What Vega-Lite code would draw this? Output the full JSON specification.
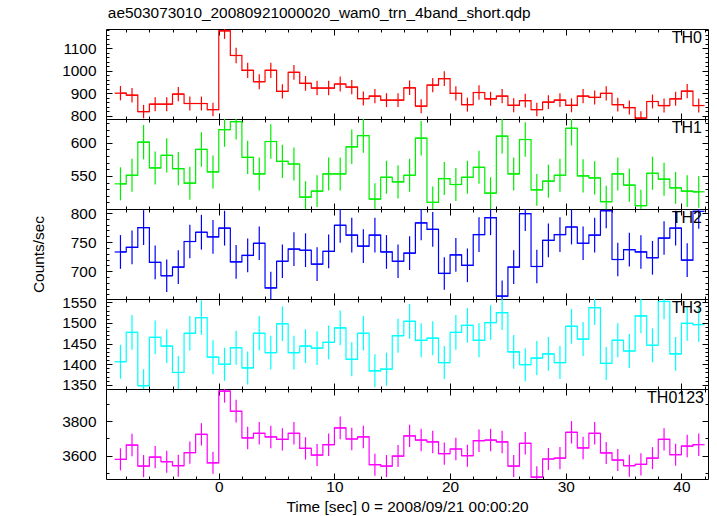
{
  "$schema": "https://vega.github.io/schema/vega-lite/v6.json",
  "padding": {"left": 30, "top": 6, "right": 3, "bottom": 0},
  "spacing": 0,
  "bounds": "flush",
  "title": {"text": "ae503073010_20080921000020_wam0_trn_4band_short.qdp", "anchor": "start", "fontSize": 15.4, "fontWeight": "normal", "font": "Liberation Sans", "color": "#000", "dx": 77, "offset": 1},
  "config": {
    "font": "Liberation Sans",
    "view": {"stroke": "#000", "strokeWidth": 1},
    "axis": {"domain": false, "grid": false, "tickColor": "#000", "tickWidth": 1, "labelColor": "#000", "labelFont": "Liberation Sans", "labelFontSize": 15.4, "titleFont": "Liberation Sans", "titleFontSize": 15.4, "titleFontWeight": "normal", "titleColor": "#000", "labelOverlap": false},
    "text": {"font": "Liberation Sans", "fontSize": 16, "color": "#000"}
  },
  "datasets": {
    "TH0": [
      {"t0":-9,"t1":-8,"tc":-8.5,"rate":900,"err":32},{"t0":-8,"t1":-7,"tc":-7.5,"rate":891,"err":32},{"t0":-7,"t1":-6,"tc":-6.5,"rate":818,"err":30},{"t0":-6,"t1":-5,"tc":-5.5,"rate":851,"err":31},{"t0":-5,"t1":-4,"tc":-4.5,"rate":851,"err":31},{"t0":-4,"t1":-3,"tc":-3.5,"rate":896,"err":32},{"t0":-3,"t1":-2,"tc":-2.5,"rate":854,"err":31},{"t0":-2,"t1":-1,"tc":-1.5,"rate":854,"err":31},{"t0":-1,"t1":0,"tc":-0.5,"rate":827,"err":30},{"t0":0,"t1":1,"tc":0.5,"rate":1178,"err":36},{"t0":1,"t1":2,"tc":1.5,"rate":1068,"err":35},{"t0":2,"t1":3,"tc":2.5,"rate":1002,"err":34},{"t0":3,"t1":4,"tc":3.5,"rate":951,"err":33},{"t0":4,"t1":5,"tc":4.5,"rate":1002,"err":34},{"t0":5,"t1":6,"tc":5.5,"rate":908,"err":32},{"t0":6,"t1":7,"tc":6.5,"rate":993,"err":33},{"t0":7,"t1":8,"tc":7.5,"rate":944,"err":33},{"t0":8,"t1":9,"tc":8.5,"rate":923,"err":32},{"t0":9,"t1":10,"tc":9.5,"rate":923,"err":32},{"t0":10,"t1":11,"tc":10.5,"rate":941,"err":33},{"t0":11,"t1":12,"tc":11.5,"rate":927,"err":32},{"t0":12,"t1":13,"tc":12.5,"rate":876,"err":31},{"t0":13,"t1":14,"tc":13.5,"rate":887,"err":32},{"t0":14,"t1":15,"tc":14.5,"rate":869,"err":31},{"t0":15,"t1":16,"tc":15.5,"rate":869,"err":31},{"t0":16,"t1":17,"tc":16.5,"rate":924,"err":32},{"t0":17,"t1":18,"tc":17.5,"rate":842,"err":31},{"t0":18,"t1":19,"tc":18.5,"rate":936,"err":32},{"t0":19,"t1":20,"tc":19.5,"rate":965,"err":33},{"t0":20,"t1":21,"tc":20.5,"rate":899,"err":32},{"t0":21,"t1":22,"tc":21.5,"rate":849,"err":31},{"t0":22,"t1":23,"tc":22.5,"rate":903,"err":32},{"t0":23,"t1":24,"tc":23.5,"rate":875,"err":31},{"t0":24,"t1":25,"tc":24.5,"rate":887,"err":32},{"t0":25,"t1":26,"tc":25.5,"rate":846,"err":31},{"t0":26,"t1":27,"tc":26.5,"rate":867,"err":31},{"t0":27,"t1":28,"tc":27.5,"rate":827,"err":30},{"t0":28,"t1":29,"tc":28.5,"rate":860,"err":31},{"t0":29,"t1":30,"tc":29.5,"rate":869,"err":31},{"t0":30,"t1":31,"tc":30.5,"rate":846,"err":31},{"t0":31,"t1":32,"tc":31.5,"rate":887,"err":32},{"t0":32,"t1":33,"tc":32.5,"rate":881,"err":31},{"t0":33,"t1":34,"tc":33.5,"rate":899,"err":32},{"t0":34,"t1":35,"tc":34.5,"rate":849,"err":31},{"t0":35,"t1":36,"tc":35.5,"rate":836,"err":31},{"t0":36,"t1":37,"tc":36.5,"rate":789,"err":30},{"t0":37,"t1":38,"tc":37.5,"rate":863,"err":31},{"t0":38,"t1":39,"tc":38.5,"rate":845,"err":31},{"t0":39,"t1":40,"tc":39.5,"rate":875,"err":31},{"t0":40,"t1":41,"tc":40.5,"rate":909,"err":32},{"t0":41,"t1":42,"tc":41.5,"rate":845,"err":31}
    ],
    "TH1": [
      {"t0":-9,"t1":-8,"tc":-8.5,"rate":538,"err":25},{"t0":-8,"t1":-7,"tc":-7.5,"rate":551,"err":25},{"t0":-7,"t1":-6,"tc":-6.5,"rate":601,"err":26},{"t0":-6,"t1":-5,"tc":-5.5,"rate":562,"err":25},{"t0":-5,"t1":-4,"tc":-4.5,"rate":581,"err":26},{"t0":-4,"t1":-3,"tc":-3.5,"rate":561,"err":25},{"t0":-3,"t1":-2,"tc":-2.5,"rate":539,"err":25},{"t0":-2,"t1":-1,"tc":-1.5,"rate":590,"err":26},{"t0":-1,"t1":0,"tc":-0.5,"rate":556,"err":25},{"t0":0,"t1":1,"tc":0.5,"rate":620,"err":26},{"t0":1,"t1":2,"tc":1.5,"rate":632,"err":27},{"t0":2,"t1":3,"tc":2.5,"rate":578,"err":25},{"t0":3,"t1":4,"tc":3.5,"rate":553,"err":25},{"t0":4,"t1":5,"tc":4.5,"rate":602,"err":26},{"t0":5,"t1":6,"tc":5.5,"rate":572,"err":25},{"t0":6,"t1":7,"tc":6.5,"rate":568,"err":25},{"t0":7,"t1":8,"tc":7.5,"rate":518,"err":24},{"t0":8,"t1":9,"tc":8.5,"rate":527,"err":24},{"t0":9,"t1":10,"tc":9.5,"rate":553,"err":25},{"t0":10,"t1":11,"tc":10.5,"rate":553,"err":25},{"t0":11,"t1":12,"tc":11.5,"rate":594,"err":26},{"t0":12,"t1":13,"tc":12.5,"rate":611,"err":26},{"t0":13,"t1":14,"tc":13.5,"rate":515,"err":24},{"t0":14,"t1":15,"tc":14.5,"rate":548,"err":25},{"t0":15,"t1":16,"tc":15.5,"rate":541,"err":25},{"t0":16,"t1":17,"tc":16.5,"rate":551,"err":25},{"t0":17,"t1":18,"tc":17.5,"rate":607,"err":26},{"t0":18,"t1":19,"tc":18.5,"rate":510,"err":24},{"t0":19,"t1":20,"tc":19.5,"rate":546,"err":25},{"t0":20,"t1":21,"tc":20.5,"rate":537,"err":25},{"t0":21,"t1":22,"tc":21.5,"rate":548,"err":25},{"t0":22,"t1":23,"tc":22.5,"rate":563,"err":25},{"t0":23,"t1":24,"tc":23.5,"rate":524,"err":24},{"t0":24,"t1":25,"tc":24.5,"rate":610,"err":26},{"t0":25,"t1":26,"tc":25.5,"rate":553,"err":25},{"t0":26,"t1":27,"tc":26.5,"rate":605,"err":26},{"t0":27,"t1":28,"tc":27.5,"rate":529,"err":24},{"t0":28,"t1":29,"tc":28.5,"rate":542,"err":25},{"t0":29,"t1":30,"tc":29.5,"rate":551,"err":25},{"t0":30,"t1":31,"tc":30.5,"rate":622,"err":26},{"t0":31,"t1":32,"tc":31.5,"rate":550,"err":25},{"t0":32,"t1":33,"tc":32.5,"rate":547,"err":25},{"t0":33,"t1":34,"tc":33.5,"rate":511,"err":24},{"t0":34,"t1":35,"tc":34.5,"rate":553,"err":25},{"t0":35,"t1":36,"tc":35.5,"rate":536,"err":25},{"t0":36,"t1":37,"tc":36.5,"rate":505,"err":24},{"t0":37,"t1":38,"tc":37.5,"rate":554,"err":25},{"t0":38,"t1":39,"tc":38.5,"rate":545,"err":25},{"t0":39,"t1":40,"tc":39.5,"rate":532,"err":24},{"t0":40,"t1":41,"tc":40.5,"rate":527,"err":24},{"t0":41,"t1":42,"tc":41.5,"rate":526,"err":24}
    ],
    "TH2": [
      {"t0":-9,"t1":-8,"tc":-8.5,"rate":733,"err":29},{"t0":-8,"t1":-7,"tc":-7.5,"rate":741,"err":29},{"t0":-7,"t1":-6,"tc":-6.5,"rate":775,"err":30},{"t0":-6,"t1":-5,"tc":-5.5,"rate":715,"err":29},{"t0":-5,"t1":-4,"tc":-4.5,"rate":692,"err":28},{"t0":-4,"t1":-3,"tc":-3.5,"rate":707,"err":29},{"t0":-3,"t1":-2,"tc":-2.5,"rate":751,"err":29},{"t0":-2,"t1":-1,"tc":-1.5,"rate":767,"err":30},{"t0":-1,"t1":0,"tc":-0.5,"rate":759,"err":29},{"t0":0,"t1":1,"tc":0.5,"rate":774,"err":30},{"t0":1,"t1":2,"tc":1.5,"rate":716,"err":29},{"t0":2,"t1":3,"tc":2.5,"rate":727,"err":29},{"t0":3,"t1":4,"tc":3.5,"rate":748,"err":29},{"t0":4,"t1":5,"tc":4.5,"rate":671,"err":28},{"t0":5,"t1":6,"tc":5.5,"rate":717,"err":29},{"t0":6,"t1":7,"tc":6.5,"rate":738,"err":29},{"t0":7,"t1":8,"tc":7.5,"rate":736,"err":29},{"t0":8,"t1":9,"tc":8.5,"rate":712,"err":29},{"t0":9,"t1":10,"tc":9.5,"rate":734,"err":29},{"t0":10,"t1":11,"tc":10.5,"rate":779,"err":30},{"t0":11,"t1":12,"tc":11.5,"rate":762,"err":30},{"t0":12,"t1":13,"tc":12.5,"rate":743,"err":29},{"t0":13,"t1":14,"tc":13.5,"rate":762,"err":30},{"t0":14,"t1":15,"tc":14.5,"rate":733,"err":29},{"t0":15,"t1":16,"tc":15.5,"rate":717,"err":29},{"t0":16,"t1":17,"tc":16.5,"rate":731,"err":29},{"t0":17,"t1":18,"tc":17.5,"rate":783,"err":30},{"t0":18,"t1":19,"tc":18.5,"rate":772,"err":30},{"t0":19,"t1":20,"tc":19.5,"rate":696,"err":28},{"t0":20,"t1":21,"tc":20.5,"rate":728,"err":29},{"t0":21,"t1":22,"tc":21.5,"rate":710,"err":29},{"t0":22,"t1":23,"tc":22.5,"rate":763,"err":30},{"t0":23,"t1":24,"tc":23.5,"rate":792,"err":30},{"t0":24,"t1":25,"tc":24.5,"rate":657,"err":27},{"t0":25,"t1":26,"tc":25.5,"rate":707,"err":29},{"t0":26,"t1":27,"tc":26.5,"rate":799,"err":30},{"t0":27,"t1":28,"tc":27.5,"rate":708,"err":29},{"t0":28,"t1":29,"tc":28.5,"rate":753,"err":29},{"t0":29,"t1":30,"tc":29.5,"rate":763,"err":30},{"t0":30,"t1":31,"tc":30.5,"rate":776,"err":30},{"t0":31,"t1":32,"tc":31.5,"rate":748,"err":29},{"t0":32,"t1":33,"tc":32.5,"rate":762,"err":30},{"t0":33,"t1":34,"tc":33.5,"rate":804,"err":30},{"t0":34,"t1":35,"tc":34.5,"rate":720,"err":29},{"t0":35,"t1":36,"tc":35.5,"rate":737,"err":29},{"t0":36,"t1":37,"tc":36.5,"rate":733,"err":29},{"t0":37,"t1":38,"tc":37.5,"rate":723,"err":29},{"t0":38,"t1":39,"tc":38.5,"rate":757,"err":29},{"t0":39,"t1":40,"tc":39.5,"rate":774,"err":30},{"t0":40,"t1":41,"tc":40.5,"rate":719,"err":29},{"t0":41,"t1":42,"tc":41.5,"rate":803,"err":30}
    ],
    "TH3": [
      {"t0":-9,"t1":-8,"tc":-8.5,"rate":1406,"err":41},{"t0":-8,"t1":-7,"tc":-7.5,"rate":1477,"err":42},{"t0":-7,"t1":-6,"tc":-6.5,"rate":1348,"err":40},{"t0":-6,"t1":-5,"tc":-5.5,"rate":1465,"err":41},{"t0":-5,"t1":-4,"tc":-4.5,"rate":1444,"err":41},{"t0":-4,"t1":-3,"tc":-3.5,"rate":1380,"err":40},{"t0":-3,"t1":-2,"tc":-2.5,"rate":1475,"err":42},{"t0":-2,"t1":-1,"tc":-1.5,"rate":1513,"err":42},{"t0":-1,"t1":0,"tc":-0.5,"rate":1417,"err":41},{"t0":0,"t1":1,"tc":0.5,"rate":1400,"err":40},{"t0":1,"t1":2,"tc":1.5,"rate":1440,"err":41},{"t0":2,"t1":3,"tc":2.5,"rate":1391,"err":40},{"t0":3,"t1":4,"tc":3.5,"rate":1475,"err":42},{"t0":4,"t1":5,"tc":4.5,"rate":1428,"err":41},{"t0":5,"t1":6,"tc":5.5,"rate":1498,"err":42},{"t0":6,"t1":7,"tc":6.5,"rate":1428,"err":41},{"t0":7,"t1":8,"tc":7.5,"rate":1444,"err":41},{"t0":8,"t1":9,"tc":8.5,"rate":1439,"err":41},{"t0":9,"t1":10,"tc":9.5,"rate":1453,"err":41},{"t0":10,"t1":11,"tc":10.5,"rate":1488,"err":42},{"t0":11,"t1":12,"tc":11.5,"rate":1412,"err":41},{"t0":12,"t1":13,"tc":12.5,"rate":1475,"err":42},{"t0":13,"t1":14,"tc":13.5,"rate":1384,"err":40},{"t0":14,"t1":15,"tc":14.5,"rate":1388,"err":40},{"t0":15,"t1":16,"tc":15.5,"rate":1469,"err":41},{"t0":16,"t1":17,"tc":16.5,"rate":1504,"err":42},{"t0":17,"t1":18,"tc":17.5,"rate":1458,"err":41},{"t0":18,"t1":19,"tc":18.5,"rate":1463,"err":41},{"t0":19,"t1":20,"tc":19.5,"rate":1404,"err":40},{"t0":20,"t1":21,"tc":20.5,"rate":1477,"err":42},{"t0":21,"t1":22,"tc":21.5,"rate":1494,"err":42},{"t0":22,"t1":23,"tc":22.5,"rate":1458,"err":41},{"t0":23,"t1":24,"tc":23.5,"rate":1501,"err":42},{"t0":24,"t1":25,"tc":24.5,"rate":1525,"err":42},{"t0":25,"t1":26,"tc":25.5,"rate":1430,"err":41},{"t0":26,"t1":27,"tc":26.5,"rate":1399,"err":40},{"t0":27,"t1":28,"tc":27.5,"rate":1415,"err":41},{"t0":28,"t1":29,"tc":28.5,"rate":1425,"err":41},{"t0":29,"t1":30,"tc":29.5,"rate":1404,"err":40},{"t0":30,"t1":31,"tc":30.5,"rate":1492,"err":42},{"t0":31,"t1":32,"tc":31.5,"rate":1461,"err":41},{"t0":32,"t1":33,"tc":32.5,"rate":1537,"err":42},{"t0":33,"t1":34,"tc":33.5,"rate":1402,"err":40},{"t0":34,"t1":35,"tc":34.5,"rate":1458,"err":41},{"t0":35,"t1":36,"tc":35.5,"rate":1432,"err":41},{"t0":36,"t1":37,"tc":36.5,"rate":1517,"err":42},{"t0":37,"t1":38,"tc":37.5,"rate":1446,"err":41},{"t0":38,"t1":39,"tc":38.5,"rate":1552,"err":43},{"t0":39,"t1":40,"tc":39.5,"rate":1425,"err":41},{"t0":40,"t1":41,"tc":40.5,"rate":1499,"err":42},{"t0":41,"t1":42,"tc":41.5,"rate":1496,"err":42}
    ],
    "TH0123": [
      {"t0":-9,"t1":-8,"tc":-8.5,"rate":3579,"err":64},{"t0":-8,"t1":-7,"tc":-7.5,"rate":3662,"err":65},{"t0":-7,"t1":-6,"tc":-6.5,"rate":3540,"err":64},{"t0":-6,"t1":-5,"tc":-5.5,"rate":3592,"err":64},{"t0":-5,"t1":-4,"tc":-4.5,"rate":3565,"err":64},{"t0":-4,"t1":-3,"tc":-3.5,"rate":3542,"err":64},{"t0":-3,"t1":-2,"tc":-2.5,"rate":3618,"err":64},{"t0":-2,"t1":-1,"tc":-1.5,"rate":3724,"err":65},{"t0":-1,"t1":0,"tc":-0.5,"rate":3559,"err":64},{"t0":0,"t1":1,"tc":0.5,"rate":3975,"err":67},{"t0":1,"t1":2,"tc":1.5,"rate":3858,"err":66},{"t0":2,"t1":3,"tc":2.5,"rate":3703,"err":65},{"t0":3,"t1":4,"tc":3.5,"rate":3730,"err":65},{"t0":4,"t1":5,"tc":4.5,"rate":3709,"err":65},{"t0":5,"t1":6,"tc":5.5,"rate":3695,"err":65},{"t0":6,"t1":7,"tc":6.5,"rate":3730,"err":65},{"t0":7,"t1":8,"tc":7.5,"rate":3643,"err":65},{"t0":8,"t1":9,"tc":8.5,"rate":3604,"err":64},{"t0":9,"t1":10,"tc":9.5,"rate":3664,"err":65},{"t0":10,"t1":11,"tc":10.5,"rate":3761,"err":66},{"t0":11,"t1":12,"tc":11.5,"rate":3697,"err":65},{"t0":12,"t1":13,"tc":12.5,"rate":3709,"err":65},{"t0":13,"t1":14,"tc":13.5,"rate":3548,"err":64},{"t0":14,"t1":15,"tc":14.5,"rate":3540,"err":64},{"t0":15,"t1":16,"tc":15.5,"rate":3598,"err":64},{"t0":16,"t1":17,"tc":16.5,"rate":3715,"err":65},{"t0":17,"t1":18,"tc":17.5,"rate":3691,"err":65},{"t0":18,"t1":19,"tc":18.5,"rate":3680,"err":65},{"t0":19,"t1":20,"tc":19.5,"rate":3612,"err":64},{"t0":20,"t1":21,"tc":20.5,"rate":3639,"err":65},{"t0":21,"t1":22,"tc":21.5,"rate":3600,"err":64},{"t0":22,"t1":23,"tc":22.5,"rate":3687,"err":65},{"t0":23,"t1":24,"tc":23.5,"rate":3691,"err":65},{"t0":24,"t1":25,"tc":24.5,"rate":3680,"err":65},{"t0":25,"t1":26,"tc":25.5,"rate":3540,"err":64},{"t0":26,"t1":27,"tc":26.5,"rate":3672,"err":65},{"t0":27,"t1":28,"tc":27.5,"rate":3476,"err":63},{"t0":28,"t1":29,"tc":28.5,"rate":3581,"err":64},{"t0":29,"t1":30,"tc":29.5,"rate":3586,"err":64},{"t0":30,"t1":31,"tc":30.5,"rate":3736,"err":65},{"t0":31,"t1":32,"tc":31.5,"rate":3645,"err":65},{"t0":32,"t1":33,"tc":32.5,"rate":3730,"err":65},{"t0":33,"t1":34,"tc":33.5,"rate":3616,"err":64},{"t0":34,"t1":35,"tc":34.5,"rate":3575,"err":64},{"t0":35,"t1":36,"tc":35.5,"rate":3542,"err":64},{"t0":36,"t1":37,"tc":36.5,"rate":3550,"err":64},{"t0":37,"t1":38,"tc":37.5,"rate":3586,"err":64},{"t0":38,"t1":39,"tc":38.5,"rate":3695,"err":65},{"t0":39,"t1":40,"tc":39.5,"rate":3606,"err":64},{"t0":40,"t1":41,"tc":40.5,"rate":3656,"err":65},{"t0":41,"t1":42,"tc":41.5,"rate":3664,"err":65}
    ]
  },
  "vconcat": [
    {
      "width": 602, "height": 90,
      "data": {"name": "TH0"},
      "layer": [
        {"mark": {"type": "rule", "color": "#ff0000", "strokeWidth": 1.2, "clip": true},
         "encoding": {
           "x": {"field": "t0", "type": "quantitative", "scale": {"domain": [-9.75, 42.3], "nice": false, "zero": false},
                 "axis": {"orient": "bottom", "title": null, "labels": false, "values": [-8,-6,-4,-2,0,2,4,6,8,10,12,14,16,18,20,22,24,26,28,30,32,34,36,38,40,42], "tickSize": {"condition": {"test": "datum.value % 10 === 0", "value": -6}, "value": -3}}},
           "x2": {"field": "t1"},
           "y": {"field": "rate", "type": "quantitative", "scale": {"domain": [785, 1186], "nice": false, "zero": false},
                 "axis": {"orient": "left", "title": null, "format": "d", "labelPadding": 16, "values": [800,820,840,860,880,900,920,940,960,980,1000,1020,1040,1060,1080,1100,1120,1140,1160,1180], "labelExpr": "datum.value % 100 === 0 ? datum.label : ''", "tickSize": {"condition": {"test": "datum.value % 100 === 0", "value": -6}, "value": -3}}}
         }},
        {"mark": {"type": "line", "interpolate": "step", "color": "#ff0000", "strokeWidth": 1.2, "clip": true},
         "encoding": {
           "x": {"field": "tc", "type": "quantitative", "axis": {"orient": "top", "title": null, "labels": false, "values": [-8,-6,-4,-2,0,2,4,6,8,10,12,14,16,18,20,22,24,26,28,30,32,34,36,38,40,42], "tickSize": {"condition": {"test": "datum.value % 10 === 0", "value": -6}, "value": -3}}},
           "y": {"field": "rate", "type": "quantitative", "axis": {"orient": "right", "title": null, "labels": false, "values": [800,820,840,860,880,900,920,940,960,980,1000,1020,1040,1060,1080,1100,1120,1140,1160,1180], "tickSize": {"condition": {"test": "datum.value % 100 === 0", "value": -6}, "value": -3}}}
         }},
        {"mark": {"type": "errorbar", "color": "#ff0000", "thickness": 1.2, "clip": true},
         "encoding": {
           "x": {"field": "tc", "type": "quantitative", "axis": null},
           "y": {"field": "rate", "type": "quantitative", "axis": null},
           "yError": {"field": "err"}
         }},
        {"data": {"values": [{"label": "TH0"}]},
         "mark": {"type": "text", "align": "right", "baseline": "alphabetic", "dx": -6, "dy": 14},
         "encoding": {
           "text": {"field": "label"},
           "x": {"datum": 42.3, "type": "quantitative", "axis": null},
           "y": {"datum": 1186, "type": "quantitative", "axis": null}
         }}
      ],
      "resolve": {"axis": {"x": "independent", "y": "independent"}}
    },
    {
      "width": 602, "height": 90,
      "data": {"name": "TH1"},
      "layer": [
        {"mark": {"type": "rule", "color": "#00ee00", "strokeWidth": 1.2, "clip": true},
         "encoding": {
           "x": {"field": "t0", "type": "quantitative", "scale": {"domain": [-9.75, 42.3], "nice": false, "zero": false},
                 "axis": {"orient": "bottom", "title": null, "labels": false, "values": [-8,-6,-4,-2,0,2,4,6,8,10,12,14,16,18,20,22,24,26,28,30,32,34,36,38,40,42], "tickSize": {"condition": {"test": "datum.value % 10 === 0", "value": -6}, "value": -3}}},
           "x2": {"field": "t1"},
           "y": {"field": "rate", "type": "quantitative", "scale": {"domain": [500, 636], "nice": false, "zero": false},
                 "axis": {"orient": "left", "title": null, "format": "d", "labelPadding": 16, "values": [510,520,530,540,550,560,570,580,590,600,610,620,630], "labelExpr": "datum.value % 50 === 0 ? datum.label : ''", "tickSize": {"condition": {"test": "datum.value % 50 === 0", "value": -6}, "value": -3}}}
         }},
        {"mark": {"type": "line", "interpolate": "step", "color": "#00ee00", "strokeWidth": 1.2, "clip": true},
         "encoding": {
           "x": {"field": "tc", "type": "quantitative", "axis": {"orient": "top", "title": null, "labels": false, "values": [-8,-6,-4,-2,0,2,4,6,8,10,12,14,16,18,20,22,24,26,28,30,32,34,36,38,40,42], "tickSize": {"condition": {"test": "datum.value % 10 === 0", "value": -6}, "value": -3}}},
           "y": {"field": "rate", "type": "quantitative", "axis": {"orient": "right", "title": null, "labels": false, "values": [510,520,530,540,550,560,570,580,590,600,610,620,630], "tickSize": {"condition": {"test": "datum.value % 50 === 0", "value": -6}, "value": -3}}}
         }},
        {"mark": {"type": "errorbar", "color": "#00ee00", "thickness": 1.2, "clip": true},
         "encoding": {
           "x": {"field": "tc", "type": "quantitative", "axis": null},
           "y": {"field": "rate", "type": "quantitative", "axis": null},
           "yError": {"field": "err"}
         }},
        {"data": {"values": [{"label": "TH1"}]},
         "mark": {"type": "text", "align": "right", "baseline": "alphabetic", "dx": -6, "dy": 14},
         "encoding": {
           "text": {"field": "label"},
           "x": {"datum": 42.3, "type": "quantitative", "axis": null},
           "y": {"datum": 636, "type": "quantitative", "axis": null}
         }}
      ],
      "resolve": {"axis": {"x": "independent", "y": "independent"}}
    },
    {
      "width": 602, "height": 90,
      "data": {"name": "TH2"},
      "layer": [
        {"mark": {"type": "rule", "color": "#0000ff", "strokeWidth": 1.2, "clip": true},
         "encoding": {
           "x": {"field": "t0", "type": "quantitative", "scale": {"domain": [-9.75, 42.3], "nice": false, "zero": false},
                 "axis": {"orient": "bottom", "title": null, "labels": false, "values": [-8,-6,-4,-2,0,2,4,6,8,10,12,14,16,18,20,22,24,26,28,30,32,34,36,38,40,42], "tickSize": {"condition": {"test": "datum.value % 10 === 0", "value": -6}, "value": -3}}},
           "x2": {"field": "t1"},
           "y": {"field": "rate", "type": "quantitative", "scale": {"domain": [652, 807], "nice": false, "zero": false},
                 "axis": {"orient": "left", "title": "Counts/sec", "titlePadding": 24, "format": "d", "labelPadding": 16, "values": [660,670,680,690,700,710,720,730,740,750,760,770,780,790,800], "labelExpr": "datum.value % 50 === 0 ? datum.label : ''", "tickSize": {"condition": {"test": "datum.value % 50 === 0", "value": -6}, "value": -3}}}
         }},
        {"mark": {"type": "line", "interpolate": "step", "color": "#0000ff", "strokeWidth": 1.2, "clip": true},
         "encoding": {
           "x": {"field": "tc", "type": "quantitative", "axis": {"orient": "top", "title": null, "labels": false, "values": [-8,-6,-4,-2,0,2,4,6,8,10,12,14,16,18,20,22,24,26,28,30,32,34,36,38,40,42], "tickSize": {"condition": {"test": "datum.value % 10 === 0", "value": -6}, "value": -3}}},
           "y": {"field": "rate", "type": "quantitative", "axis": {"orient": "right", "title": null, "labels": false, "values": [660,670,680,690,700,710,720,730,740,750,760,770,780,790,800], "tickSize": {"condition": {"test": "datum.value % 50 === 0", "value": -6}, "value": -3}}}
         }},
        {"mark": {"type": "errorbar", "color": "#0000ff", "thickness": 1.2, "clip": true},
         "encoding": {
           "x": {"field": "tc", "type": "quantitative", "axis": null},
           "y": {"field": "rate", "type": "quantitative", "axis": null},
           "yError": {"field": "err"}
         }},
        {"data": {"values": [{"label": "TH2"}]},
         "mark": {"type": "text", "align": "right", "baseline": "alphabetic", "dx": -6, "dy": 14},
         "encoding": {
           "text": {"field": "label"},
           "x": {"datum": 42.3, "type": "quantitative", "axis": null},
           "y": {"datum": 807, "type": "quantitative", "axis": null}
         }}
      ],
      "resolve": {"axis": {"x": "independent", "y": "independent"}}
    },
    {
      "width": 602, "height": 90,
      "data": {"name": "TH3"},
      "layer": [
        {"mark": {"type": "rule", "color": "#00ffff", "strokeWidth": 1.2, "clip": true},
         "encoding": {
           "x": {"field": "t0", "type": "quantitative", "scale": {"domain": [-9.75, 42.3], "nice": false, "zero": false},
                 "axis": {"orient": "bottom", "title": null, "labels": false, "values": [-8,-6,-4,-2,0,2,4,6,8,10,12,14,16,18,20,22,24,26,28,30,32,34,36,38,40,42], "tickSize": {"condition": {"test": "datum.value % 10 === 0", "value": -6}, "value": -3}}},
           "x2": {"field": "t1"},
           "y": {"field": "rate", "type": "quantitative", "scale": {"domain": [1340, 1558], "nice": false, "zero": false},
                 "axis": {"orient": "left", "title": null, "format": "d", "labelPadding": 16, "values": [1350,1360,1370,1380,1390,1400,1410,1420,1430,1440,1450,1460,1470,1480,1490,1500,1510,1520,1530,1540,1550], "labelExpr": "datum.value % 50 === 0 ? datum.label : ''", "tickSize": {"condition": {"test": "datum.value % 50 === 0", "value": -6}, "value": -3}}}
         }},
        {"mark": {"type": "line", "interpolate": "step", "color": "#00ffff", "strokeWidth": 1.2, "clip": true},
         "encoding": {
           "x": {"field": "tc", "type": "quantitative", "axis": {"orient": "top", "title": null, "labels": false, "values": [-8,-6,-4,-2,0,2,4,6,8,10,12,14,16,18,20,22,24,26,28,30,32,34,36,38,40,42], "tickSize": {"condition": {"test": "datum.value % 10 === 0", "value": -6}, "value": -3}}},
           "y": {"field": "rate", "type": "quantitative", "axis": {"orient": "right", "title": null, "labels": false, "values": [1350,1360,1370,1380,1390,1400,1410,1420,1430,1440,1450,1460,1470,1480,1490,1500,1510,1520,1530,1540,1550], "tickSize": {"condition": {"test": "datum.value % 50 === 0", "value": -6}, "value": -3}}}
         }},
        {"mark": {"type": "errorbar", "color": "#00ffff", "thickness": 1.2, "clip": true},
         "encoding": {
           "x": {"field": "tc", "type": "quantitative", "axis": null},
           "y": {"field": "rate", "type": "quantitative", "axis": null},
           "yError": {"field": "err"}
         }},
        {"data": {"values": [{"label": "TH3"}]},
         "mark": {"type": "text", "align": "right", "baseline": "alphabetic", "dx": -6, "dy": 14},
         "encoding": {
           "text": {"field": "label"},
           "x": {"datum": 42.3, "type": "quantitative", "axis": null},
           "y": {"datum": 1558, "type": "quantitative", "axis": null}
         }}
      ],
      "resolve": {"axis": {"x": "independent", "y": "independent"}}
    },
    {
      "width": 602, "height": 90,
      "data": {"name": "TH0123"},
      "layer": [
        {"mark": {"type": "rule", "color": "#ff00ff", "strokeWidth": 1.2, "clip": true},
         "encoding": {
           "x": {"field": "t0", "type": "quantitative", "scale": {"domain": [-9.75, 42.3], "nice": false, "zero": false},
                 "axis": {"orient": "bottom", "title": "Time [sec] 0 = 2008/09/21 00:00:20", "titlePadding": 2, "labelPadding": 6, "values": [-8,-6,-4,-2,0,2,4,6,8,10,12,14,16,18,20,22,24,26,28,30,32,34,36,38,40,42], "labelExpr": "datum.value % 10 === 0 ? datum.label : ''", "tickSize": {"condition": {"test": "datum.value % 10 === 0", "value": -6}, "value": -3}}},
           "x2": {"field": "t1"},
           "y": {"field": "rate", "type": "quantitative", "scale": {"domain": [3465, 3987], "nice": false, "zero": false},
                 "axis": {"orient": "left", "title": null, "format": "d", "labelPadding": 16, "values": [3500,3600,3700,3800,3900], "labelExpr": "datum.value % 200 === 0 ? datum.label : ''", "tickSize": {"condition": {"test": "datum.value % 200 === 0", "value": -6}, "value": -3}}}
         }},
        {"mark": {"type": "line", "interpolate": "step", "color": "#ff00ff", "strokeWidth": 1.2, "clip": true},
         "encoding": {
           "x": {"field": "tc", "type": "quantitative", "axis": {"orient": "top", "title": null, "labels": false, "values": [-8,-6,-4,-2,0,2,4,6,8,10,12,14,16,18,20,22,24,26,28,30,32,34,36,38,40,42], "tickSize": {"condition": {"test": "datum.value % 10 === 0", "value": -6}, "value": -3}}},
           "y": {"field": "rate", "type": "quantitative", "axis": {"orient": "right", "title": null, "labels": false, "values": [3500,3600,3700,3800,3900], "tickSize": {"condition": {"test": "datum.value % 200 === 0", "value": -6}, "value": -3}}}
         }},
        {"mark": {"type": "errorbar", "color": "#ff00ff", "thickness": 1.2, "clip": true},
         "encoding": {
           "x": {"field": "tc", "type": "quantitative", "axis": null},
           "y": {"field": "rate", "type": "quantitative", "axis": null},
           "yError": {"field": "err"}
         }},
        {"data": {"values": [{"label": "TH0123"}]},
         "mark": {"type": "text", "align": "right", "baseline": "alphabetic", "dx": -4, "dy": 14},
         "encoding": {
           "text": {"field": "label"},
           "x": {"datum": 42.3, "type": "quantitative", "axis": null},
           "y": {"datum": 3987, "type": "quantitative", "axis": null}
         }}
      ],
      "resolve": {"axis": {"x": "independent", "y": "independent"}}
    }
  ]
}
